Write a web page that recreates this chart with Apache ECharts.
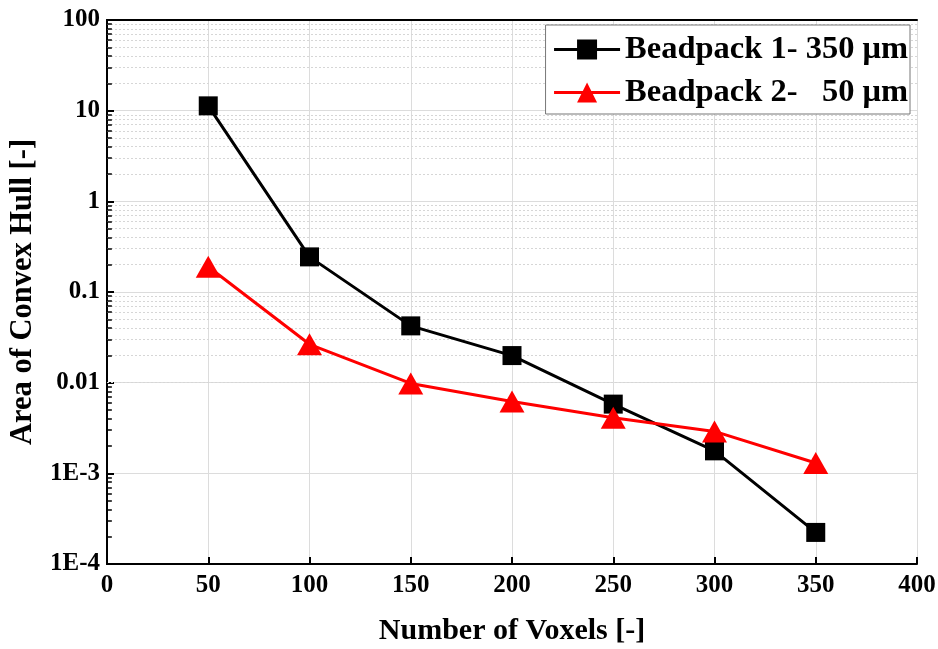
<!DOCTYPE html>
<html>
<head>
<meta charset="utf-8">
<script src="https://cdn.jsdelivr.net/npm/echarts@6/dist/echarts.min.js"></script>
<style>html,body{margin:0;padding:0;background:#fff}#c{width:938px;height:649px}</style>
</head>
<body>
<div id="c"></div>
<script>
const voxels = [50, 100, 150, 200, 250, 300, 350];
const beadpack1 = [11.3, 0.244, 0.0423, 0.0199, 0.0058, 0.00177, 0.000223];
const beadpack2 = [0.19, 0.0265, 0.0098, 0.0062, 0.0041, 0.0029, 0.0013];
const seriesNames = ['Beadpack 1- 350 \u03bcm', 'Beadpack 2-   50 \u03bcm'];
const yTickLabels = {'-4': '1E-4', '-3': '1E-3', '-2': '0.01', '-1': '0.1', '0': '1', '1': '10', '2': '100'};
const decades = [-4, -3, -2, -1, 0, 1];
const minorMultipliers = [2, 3, 4, 5, 6, 7, 8, 9];

const minorVals = [];
decades.forEach(d => minorMultipliers.forEach(m => minorVals.push(m * Math.pow(10, d))));

const font = '"Liberation Serif", "Times New Roman", serif';
const chart = echarts.init(document.getElementById('c'));
chart.setOption({
  backgroundColor: '#fff',
  animation: false,
  grid: {left: 107, right: 21, top: 20, bottom: 85, containLabel: false, outerBoundsMode: 'none'},
  legend: {
    orient: 'vertical', right: 28, top: 25, z: 10,
    itemWidth: 66, itemHeight: 25, itemGap: 10,
    padding: [8, 2, 5, 7],
    borderColor: '#777', borderWidth: 1, backgroundColor: '#fff',
    lineStyle: {width: 3},
    textStyle: {fontFamily: font, fontWeight: 'bold', fontSize: 32.5, color: '#000'},
    data: seriesNames
  },
  xAxis: [{
    type: 'value', min: 0, max: 400, interval: 50,
    name: 'Number of Voxels [-]', nameLocation: 'middle', nameGap: 52,
    nameTextStyle: {fontFamily: font, fontWeight: 'bold', fontSize: 30, color: '#000'},
    axisLine: {show: true, onZero: false, lineStyle: {color: '#000', width: 2}},
    axisTick: {show: true, inside: true, length: 7, lineStyle: {color: '#000', width: 2}},
    axisLabel: {fontFamily: font, fontWeight: 'bold', fontSize: 25, color: '#000', margin: 9},
    splitLine: {show: true, lineStyle: {color: '#dcdcdc', width: 1}}
  }, {
    type: 'value', min: 0, max: 400, position: 'top',
    axisLine: {show: true, onZero: false, lineStyle: {color: '#000', width: 2}},
    axisTick: {show: false}, axisLabel: {show: false}, splitLine: {show: false}
  }],
  yAxis: [{
    type: 'log', logBase: 10, min: 1e-4, max: 100,
    name: 'Area of Convex Hull [-]', nameLocation: 'middle', nameGap: 66,
    nameTextStyle: {fontFamily: font, fontWeight: 'bold', fontSize: 30.5, color: '#000'},
    axisLine: {show: true, lineStyle: {color: '#000', width: 2}},
    axisTick: {show: true, inside: true, length: 7, lineStyle: {color: '#000', width: 2}},
    axisLabel: {
      fontFamily: font, fontWeight: 'bold', fontSize: 25, color: '#000', margin: 7,
      formatter: v => yTickLabels[String(Math.round(Math.log10(v)))] || ''
    },
    splitLine: {show: true, lineStyle: {color: '#dcdcdc', width: 1}}
  }, {
    type: 'log', logBase: 10, min: 1e-4, max: 100, position: 'right',
    axisLine: {show: true, lineStyle: {color: '#000', width: 2}},
    axisTick: {show: false}, axisLabel: {show: false}, splitLine: {show: false}
  }],
  series: [{
    type: 'line', name: '_grid', data: [], z: 1, silent: true,
    markLine: {
      z: 1, silent: true, symbol: 'none', label: {show: false}, animation: false,
      lineStyle: {color: '#d6d6d6', width: 1, type: [2, 2]},
      data: minorVals.map(v => ({yAxis: v}))
    }
  }, {
    type: 'line', name: '_ticks', data: [], z: 2, silent: true,
    markLine: {
      z: 2, silent: true, symbol: 'none', label: {show: false}, animation: false,
      lineStyle: {color: '#000', width: 1.5, type: 'solid'},
      data: minorVals.map(v => [{coord: [0, v]}, {coord: [2.4, v]}])
    }
  }, {
    type: 'line', name: seriesNames[0], z: 3,
    data: voxels.map((x, i) => [x, beadpack1[i]]),
    symbol: 'rect', symbolSize: 19,
    lineStyle: {color: '#000', width: 3},
    itemStyle: {color: '#000'}
  }, {
    type: 'line', name: seriesNames[1], z: 4,
    data: voxels.map((x, i) => [x, beadpack2[i]]),
    symbol: 'triangle', symbolSize: [25, 22],
    lineStyle: {color: '#ff0000', width: 3},
    itemStyle: {color: '#ff0000'}
  }]
});
</script>
</body>
</html>
